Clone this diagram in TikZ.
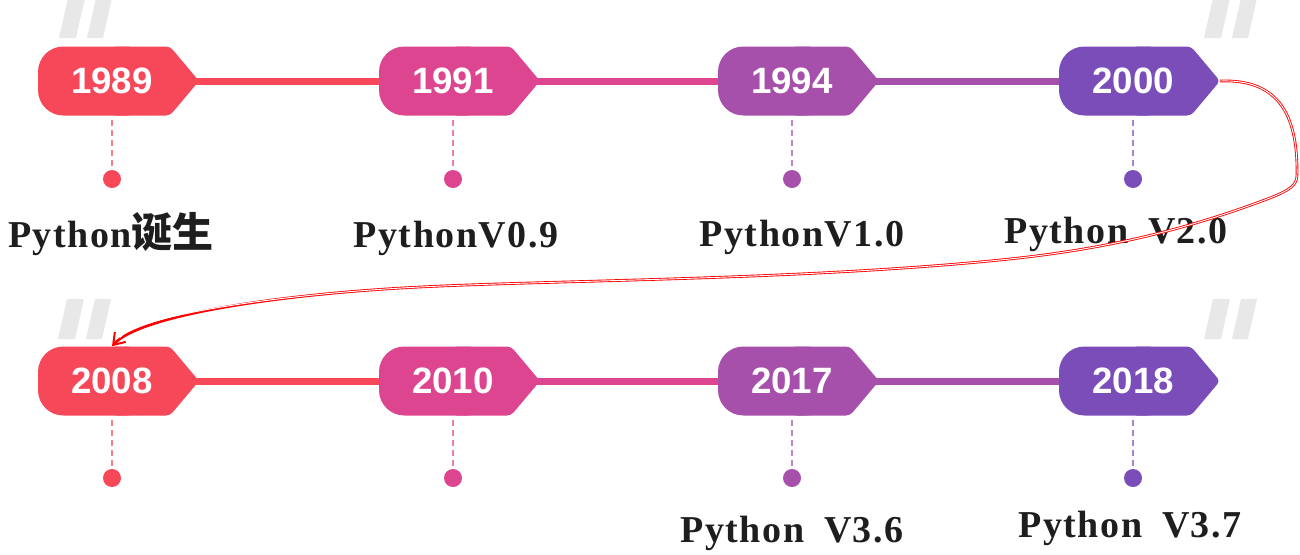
\documentclass[tikz,border=0pt]{standalone}
\usepackage{fontspec}
\usetikzlibrary{arrows.meta}
\newfontfamily\yearfont{Liberation Sans}
\newfontfamily\eventfont{Liberation Serif}[LetterSpace=4, WordSpace=1.8]
\newfontfamily\cjkfont{Noto Sans CJK SC}[Scale=1.08]

\definecolor{tagred}{RGB}{247,72,90}
\definecolor{tagpink}{RGB}{221,69,144}
\definecolor{tagpurple}{RGB}{166,79,171}
\definecolor{tagviolet}{RGB}{123,77,185}
\definecolor{quotegray}{RGB}{232,232,232}
\definecolor{inkgray}{RGB}{30,30,30}

\begin{document}
\begin{tikzpicture}[x=0.75pt, y=-0.75pt,
    yeartext/.style={text=white, inner sep=0pt, minimum height=51.75pt,
      font=\yearfont\bfseries\fontsize{27.5}{30}\selectfont},
    yeartag/.pic={
      \fill[rounded corners=19pt] (-74,-34.5) rectangle (40,34.5);
      \fill[rounded corners=3pt] (0,-34.5) -- (58,-34.5) -- (87,0) -- (58,34.5) -- (0,34.5) -- cycle;
      \node[yeartext] (-n) at (0,0) {#1};
      \coordinate (-tip) at (87,0);
      \coordinate (-out) at (80,0);
      \coordinate (-in) at (-74,0);
    },
    bar/.style={line width=5.25pt},
    stalk/.style={line width=1.5pt, dash pattern=on 4.5pt off 3pt, shorten <=3pt},
    dot/.style={circle, fill, inner sep=0pt, minimum size=13.5pt},
    event/.style={text=inkgray, anchor=base, inner sep=0pt,
      font=\eventfont\bfseries\fontsize{28.5}{32}\selectfont},
    quote/.style={fill=quotegray},
    link/.style={draw=red, line width=2pt,
      postaction={draw=white, line width=0.7pt, -, shorten >=9pt}}]
  \useasboundingbox (0,0) rectangle (1300,554);
  % the grey quote marks
  \fill[quote, shift={(59,38)}] (0,0) -- (9,-40) -- (26,-40) -- (17,0) -- cycle
    (28,0) -- (37,-40) -- (53,-40) -- (44,0) -- cycle;
  \fill[quote, shift={(1204,38)}] (0,0) -- (9,-40) -- (26,-40) -- (17,0) -- cycle
    (28,0) -- (37,-40) -- (53,-40) -- (44,0) -- cycle;
  \fill[quote, shift={(58,339)}] (0,0) -- (9,-40) -- (26,-40) -- (17,0) -- cycle
    (28,0) -- (37,-40) -- (53,-40) -- (44,0) -- cycle;
  \fill[quote, shift={(1204,339)}] (0,0) -- (9,-40) -- (26,-40) -- (17,0) -- cycle
    (28,0) -- (37,-40) -- (53,-40) -- (44,0) -- cycle;

  % first row of years
  \pic[tagred] (t1) at (112,81) {yeartag=1989};
  \pic[tagpink] (t2) at (453,81) {yeartag=1991};
  \pic[tagpurple] (t3) at (792,81) {yeartag=1994};
  \pic[tagviolet] (t4) at (1133,81) {yeartag=2000};
  \draw[bar, tagred] (t1-out) -- (t2-in);
  \draw[bar, tagpink] (t2-out) -- (t3-in);
  \draw[bar, tagpurple] (t3-out) -- (t4-in);

  % second row of years
  \pic[tagred] (t5) at (112,381) {yeartag=2008};
  \pic[tagpink] (t6) at (453,381) {yeartag=2010};
  \pic[tagpurple] (t7) at (792,381) {yeartag=2017};
  \pic[tagviolet] (t8) at (1133,381) {yeartag=2018};
  \draw[bar, tagred] (t5-out) -- (t6-in);
  \draw[bar, tagpink] (t6-out) -- (t7-in);
  \draw[bar, tagpurple] (t7-out) -- (t8-in);

  % stalks and dots
  \node[dot, tagred] (d1) at (112,179) {};
  \node[dot, tagpink] (d2) at (453,179) {};
  \node[dot, tagpurple] (d3) at (792,179) {};
  \node[dot, tagviolet] (d4) at (1133,179) {};
  \node[dot, tagred] (d5) at (112,478) {};
  \node[dot, tagpink] (d6) at (453,478) {};
  \node[dot, tagpurple] (d7) at (792,478) {};
  \node[dot, tagviolet] (d8) at (1133,478) {};
  \draw[stalk, tagred!70] (t1-n.south) -- (d1);
  \draw[stalk, tagpink!70] (t2-n.south) -- (d2);
  \draw[stalk, tagpurple!70] (t3-n.south) -- (d3);
  \draw[stalk, tagviolet!70] (t4-n.south) -- (d4);
  \draw[stalk, tagred!70] (t5-n.south) -- (d5);
  \draw[stalk, tagpink!70] (t6-n.south) -- (d6);
  \draw[stalk, tagpurple!70] (t7-n.south) -- (d7);
  \draw[stalk, tagviolet!70] (t8-n.south) -- (d8);

  % versions
  \node[event] (e1) at (111,247) {Python{\cjkfont 诞生}};
  \node[event] (e2) at (456,247) {PythonV0.9};
  \node[event] (e3) at (802,246) {PythonV1.0};
  \node[event] (e4) at (1116,243) {Python V2.0};
  \node[event] (e7) at (792,542) {Python V3.6};
  \node[event] (e8) at (1130,537) {Python V3.7};

  % the red link from 2000 down to 2008
  \draw[link, -{Straight Barb[length=8pt, width=11pt, line width=1.5pt]}] (t4-tip)
    .. controls (1275,79) and (1298,110) .. (1297,175)
    .. controls (1297,185) and (1290,190) .. (1270,198)
    .. controls (1180,232) and (1100,250) .. (1000,260)
    .. controls (800,280) and (560,280) .. (420,287)
    .. controls (280,294) and (140,315) .. (t5-n.north);
\end{tikzpicture}
\end{document}
